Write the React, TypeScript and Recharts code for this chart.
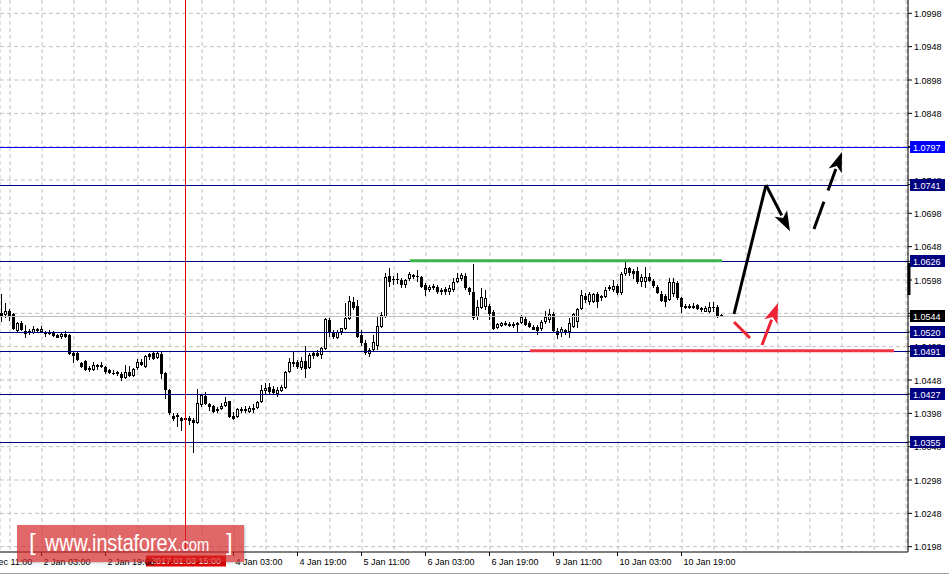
import React from 'react';
import { ComposedChart, Bar, XAxis, YAxis, CartesianGrid, ReferenceLine } from 'recharts';

// ---------------- data ----------------
const opens = [1.05485,1.05455,1.05515,1.05470,1.05215,1.05335,1.05215,1.05215,1.05185,1.05245,
1.05200,1.05200,1.05200,1.05200,1.05155,1.05125,1.05170,1.05155,1.04885,1.04885,
1.04735,1.04765,1.04660,1.04630,1.04705,1.04705,1.04675,1.04630,1.04585,1.04600,
1.04570,1.04510,1.04600,1.04540,1.04660,1.04750,1.04675,1.04870,1.04885,1.04810,
1.04870,1.04585,1.04330,1.03940,1.03955,1.03910,1.03910,1.03910,1.03880,1.03835,
1.04105,1.04240,1.04120,1.04090,1.04015,1.04045,1.04090,1.04165,1.03940,1.03925,
1.04045,1.04045,1.04000,1.04060,1.04060,1.04150,1.04315,1.04375,1.04345,1.04270,
1.04315,1.04360,1.04600,1.04750,1.04750,1.04660,1.04765,1.04660,1.04885,1.04885,
1.04855,1.04945,1.05380,1.05200,1.05110,1.05200,1.05245,1.05395,1.05650,1.05590,
1.05155,1.05035,1.04870,1.04930,1.04990,1.05275,1.05425,1.06040,1.05995,1.05995,
1.05980,1.05905,1.05995,1.06025,1.06040,1.06025,1.05905,1.05830,1.05860,1.05875,
1.05830,1.05845,1.05800,1.05830,1.05950,1.05995,1.06040,1.05860,1.05800,1.05425,
1.05560,1.05575,1.05590,1.05500,1.05260,1.05290,1.05335,1.05320,1.05320,1.05305,
1.05335,1.05395,1.05335,1.05275,1.05275,1.05245,1.05350,1.05380,1.05470,1.05215,
1.05185,1.05230,1.05200,1.05275,1.05350,1.05545,1.05740,1.05650,1.05650,1.05770,
1.05710,1.05725,1.05845,1.05830,1.05890,1.05785,1.06070,1.06160,1.06115,1.06115,
1.05950,1.05950,1.06025,1.05965,1.05875,1.05770,1.05740,1.05680,1.05770,1.05935,
1.05710,1.05590,1.05590,1.05590,1.05605,1.05560,1.05500,1.05500,1.05575,1.05575,
1.05455];

const highs = [1.05770,1.05635,1.05545,1.05485,1.05350,1.05365,1.05305,1.05245,1.05290,1.05260,
1.05290,1.05215,1.05230,1.05215,1.05170,1.05185,1.05215,1.05170,1.04915,1.04900,
1.04750,1.04780,1.04690,1.04750,1.04720,1.04750,1.04690,1.04645,1.04630,1.04615,
1.04600,1.04705,1.04690,1.04660,1.04795,1.04795,1.04855,1.04885,1.04900,1.04900,
1.04900,1.04600,1.04345,1.03985,1.03985,1.03925,1.03925,1.03940,1.03910,1.04345,
1.04270,1.04300,1.04135,1.04105,1.04075,1.04135,1.04225,1.04165,1.04000,1.04060,
1.04075,1.04090,1.04090,1.04120,1.04165,1.04405,1.04435,1.04435,1.04390,1.04375,
1.04405,1.04615,1.04810,1.04900,1.04780,1.04825,1.04990,1.04885,1.04915,1.04930,
1.04975,1.05410,1.05410,1.05230,1.05230,1.05260,1.05635,1.05740,1.05725,1.05680,
1.05230,1.05080,1.04960,1.05155,1.05425,1.05500,1.06085,1.06160,1.06040,1.06085,
1.06010,1.05995,1.06100,1.06070,1.06130,1.06040,1.05935,1.05905,1.05920,1.05905,
1.05860,1.05875,1.05905,1.06010,1.06085,1.06085,1.06085,1.05875,1.06220,1.05680,
1.05860,1.05830,1.05620,1.05530,1.05335,1.05350,1.05365,1.05350,1.05350,1.05350,
1.05455,1.05425,1.05365,1.05305,1.05305,1.05380,1.05515,1.05545,1.05500,1.05260,
1.05275,1.05245,1.05410,1.05485,1.05560,1.05830,1.05785,1.05800,1.05785,1.05800,
1.05755,1.05875,1.05905,1.05980,1.05920,1.06100,1.06250,1.06175,1.06145,1.06175,
1.06070,1.06175,1.06085,1.05995,1.05905,1.05815,1.05770,1.06010,1.06010,1.05965,
1.05725,1.05620,1.05620,1.05635,1.05620,1.05575,1.05590,1.05650,1.05650,1.05605,
1.05470];

const lows = [1.05350,1.05410,1.05365,1.05230,1.05200,1.05215,1.05110,1.05155,1.05170,1.05200,
1.05185,1.05125,1.05155,1.05125,1.05110,1.05095,1.05110,1.04855,1.04735,1.04765,
1.04660,1.04615,1.04600,1.04615,1.04630,1.04660,1.04570,1.04570,1.04555,1.04540,
1.04465,1.04495,1.04525,1.04525,1.04630,1.04690,1.04660,1.04780,1.04780,1.04795,
1.04495,1.04195,1.03955,1.03865,1.03775,1.03715,1.03835,1.03805,1.03385,1.03820,
1.04075,1.04105,1.04015,1.03985,1.03985,1.04030,1.04075,1.03910,1.03880,1.03910,
1.03985,1.03985,1.03985,1.03985,1.04045,1.04135,1.04270,1.04255,1.04255,1.04225,
1.04300,1.04345,1.04585,1.04675,1.04645,1.04630,1.04510,1.04645,1.04795,1.04825,
1.04795,1.04930,1.05125,1.05095,1.05095,1.05155,1.05230,1.05380,1.05530,1.05110,
1.04990,1.04855,1.04825,1.04900,1.04930,1.05260,1.05410,1.05875,1.05905,1.05920,
1.05860,1.05860,1.05965,1.05995,1.05950,1.05860,1.05740,1.05800,1.05830,1.05770,
1.05755,1.05755,1.05755,1.05800,1.05935,1.05965,1.05830,1.05755,1.05380,1.05380,
1.05545,1.05530,1.05380,1.05230,1.05245,1.05275,1.05290,1.05275,1.05260,1.05200,
1.05320,1.05290,1.05260,1.05230,1.05155,1.05215,1.05320,1.05335,1.05200,1.05095,
1.05125,1.05155,1.05110,1.05260,1.05260,1.05530,1.05635,1.05605,1.05635,1.05560,
1.05665,1.05710,1.05815,1.05800,1.05755,1.05755,1.06040,1.06040,1.05995,1.05920,
1.05875,1.05860,1.05950,1.05860,1.05770,1.05650,1.05575,1.05665,1.05725,1.05680,
1.05485,1.05545,1.05545,1.05545,1.05530,1.05500,1.05500,1.05485,1.05500,1.05410,
1.05425];

const closes = [1.05440,1.05515,1.05440,1.05245,1.05335,1.05230,1.05170,1.05185,1.05245,1.05215,
1.05245,1.05170,1.05170,1.05140,1.05110,1.05170,1.05125,1.04870,1.04840,1.04780,
1.04675,1.04630,1.04630,1.04705,1.04675,1.04675,1.04600,1.04585,1.04570,1.04570,
1.04510,1.04600,1.04540,1.04645,1.04750,1.04705,1.04840,1.04825,1.04795,1.04885,
1.04570,1.04330,1.03985,1.03895,1.03925,1.03865,1.03880,1.03865,1.03835,1.04135,
1.04255,1.04120,1.04075,1.04000,1.04045,1.04090,1.04150,1.03925,1.03895,1.04045,
1.04015,1.04015,1.04060,1.04030,1.04150,1.04330,1.04360,1.04300,1.04285,1.04330,
1.04375,1.04600,1.04750,1.04720,1.04675,1.04765,1.04645,1.04855,1.04840,1.04840,
1.04960,1.05395,1.05185,1.05125,1.05200,1.05260,1.05410,1.05665,1.05560,1.05125,
1.05035,1.04885,1.04930,1.05050,1.05290,1.05455,1.06025,1.05950,1.05980,1.05980,
1.05905,1.05980,1.06070,1.06055,1.06025,1.05875,1.05830,1.05875,1.05890,1.05800,
1.05800,1.05800,1.05860,1.05950,1.06010,1.06055,1.05860,1.05800,1.05410,1.05575,
1.05725,1.05710,1.05470,1.05245,1.05320,1.05335,1.05305,1.05290,1.05290,1.05335,
1.05425,1.05305,1.05275,1.05230,1.05215,1.05350,1.05425,1.05470,1.05215,1.05155,
1.05245,1.05200,1.05335,1.05470,1.05545,1.05755,1.05680,1.05770,1.05770,1.05650,
1.05740,1.05830,1.05875,1.05890,1.05785,1.06070,1.06160,1.06085,1.06070,1.05950,
1.06025,1.06025,1.05965,1.05890,1.05785,1.05665,1.05650,1.05950,1.05950,1.05710,
1.05575,1.05560,1.05560,1.05560,1.05545,1.05530,1.05560,1.05575,1.05560,1.05425,
1.05440];

// empty bar slots to the right of the last candle (chart shift area)
const FUTURE_SLOTS = 46;

// time axis labels (slot index -> text)
const timeTickIdx = [10, 26, 58, 74, 90, 106, 122, 138, 154, 170];
const timeTickText = ['2 Jan 03:00', '2 Jan 19:00', '4 Jan 03:00', '4 Jan 19:00', '5 Jan 11:00',
  '6 Jan 03:00', '6 Jan 19:00', '9 Jan 11:00', '10 Jan 03:00', '10 Jan 19:00'];
const leadTimeText = '30 Dec 11:00'; // label of the slot 8 bars left of the first grid line
const crosshairIdx = 46;
const crosshairText = '2017.01.03 15:00';

// price axis
const priceTicks = [1.0198, 1.0248, 1.0298, 1.0348, 1.0398, 1.0448, 1.0498, 1.0548, 1.0598,
  1.0648, 1.0698, 1.0748, 1.0798, 1.0848, 1.0898, 1.0948, 1.0998];
const levelPrices = [1.0797, 1.0741, 1.0626, 1.0520, 1.0491, 1.0427, 1.0355];
const levelColors = ['#0000ff', '#000080', '#000080', '#000080', '#000080', '#000080', '#000080'];
const bidPrice = 1.0544;
const scaleMarker = [{ x: 226, y: 1.06235 }, { x: 226, y: 1.05755 }];

// drawn objects (slot index, price)
const greenLine = [{ x: 102, y: 1.0627 }, { x: 180, y: 1.0627 }];
const redLine = [{ x: 132, y: 1.0492 }, { x: 223, y: 1.0492 }];
const blackUp = [{ x: 183, y: 1.0547 }, { x: 191, y: 1.07405 }];
const blackDown = [{ x: 191, y: 1.07405 }, { x: 197, y: 1.0671 }];
const blackDashed = [{ x: 203, y: 1.06745 }, { x: 210, y: 1.0790 }];
const redDash = [{ x: 183, y: 1.0535 }, { x: 187, y: 1.0511 }];
const redUp = [{ x: 190, y: 1.05005 }, { x: 194, y: 1.05635 }];

const rows = Array.from({ length: opens.length + FUTURE_SLOTS }, (_, i) =>
  i < opens.length
    ? { i, o: opens[i], h: highs[i], l: lows[i], c: closes[i] }
    : { i, o: null, h: null, l: null, c: null });

const gridTicks = Array.from({ length: 29 }, (_, k) => 2 + 8 * k);
// regular price labels first, then the boxed labels on top of them
const axisTicks = [...priceTicks, bidPrice, ...levelPrices];
const boxColor = (v: number) => {
  if (v === bidPrice) return '#000';
  const k = levelPrices.indexOf(v);
  return k >= 0 ? levelColors[k] : null;
};

const FONT = '"Liberation Sans", Arial, sans-serif';

const Candle = (props: any) => {
  const { x, y, width, height, payload } = props;
  if (!payload || payload.o == null) return null;
  const { o, h, l, c } = payload;
  const cx = x + width / 2 - 0.5;
  const span = h - l;
  const k = span > 0 ? height / span : 0;
  const py = (v: number) => y + (h - v) * k;
  const yo = py(o);
  const yc = py(c);
  const top = Math.min(yo, yc);
  const bh = Math.max(Math.abs(yo - yc), 1);
  const bull = c > o;
  return (
    <g>
      <line x1={cx} x2={cx} y1={y} y2={y + Math.max(height, 1)} stroke="#000" strokeWidth={1} />
      {bull ? (
        <rect x={cx - 1} y={top + 0.5} width={2} height={Math.max(bh - 1, 0.5)} fill="#fff" stroke="#000" strokeWidth={1} />
      ) : (
        <rect x={cx - 1.5} y={top} width={3} height={bh} fill="#000" />
      )}
    </g>
  );
};

const TimeTick = (props: any) => {
  const { x, y, payload } = props;
  const idx = timeTickIdx.indexOf(payload.value);
  const tx = x - 0.5;
  return (
    <g>
      {idx >= 0 && <line x1={tx} x2={tx} y1={y} y2={y + 4} stroke="#000" />}
      {idx >= 0 && (
        <text x={tx + 2} y={y + 13} fontSize={9} fontFamily={FONT} fill="#000">{timeTickText[idx]}</text>
      )}
      {payload.value === gridTicks[0] && (
        <text x={tx - 32 + 2} y={y + 13} fontSize={9} fontFamily={FONT} fill="#000">{leadTimeText}</text>
      )}
    </g>
  );
};

const PriceTick = (props: any) => {
  const { x, y, payload } = props;
  const v = payload.value as number;
  const bg = boxColor(v);
  const cy = Math.round(y);
  if (bg) {
    return (
      <g>
        <rect x={x - 4} y={cy - 6} width={35} height={12} fill={bg} />
        <text x={x - 1} y={cy + 3.5} fontSize={9} fontFamily={FONT} fill="#fff">{v.toFixed(4)}</text>
      </g>
    );
  }
  return (
    <text x={x} y={y + 3.5} fontSize={9} fontFamily={FONT} fill="#000">{v.toFixed(4)}</text>
  );
};

const crispH = (color: string) => (p: any) => {
  const yy = Math.round(p.y1) + 0.5;
  return <line x1={p.x1} x2={p.x2} y1={yy} y2={yy} style={{ stroke: color }} strokeWidth={1} />;
};

const crispV = (color: string) => (p: any) => {
  const xx = Math.floor(p.x1) - 0.5;
  return <line x1={xx} x2={xx} y1={p.y1} y2={p.y2} style={{ stroke: color }} strokeWidth={1} />;
};

const markerShape = (p: any) => (
  <rect x={p.x1 + 1.5} y={Math.min(p.y1, p.y2)} width={3} height={Math.abs(p.y2 - p.y1)} fill="#000" />
);

const crossLabel = (props: any) => {
  const vb = props.viewBox || {};
  const cx = vb.x;
  const by = vb.y + vb.height;
  return (
    <g>
      <rect x={cx - 40} y={by + 3.5} width={80} height={11} fill="#e00000" />
      <text x={cx} y={by + 12} textAnchor="middle" fontSize={9} fontFamily={FONT} fill="#fff">{crosshairText}</text>
    </g>
  );
};

const arrowShape = (color: string, width: number, head: boolean, dash?: string) => (p: any) => {
  const { x1, y1, x2, y2 } = p;
  const dx = x2 - x1;
  const dy = y2 - y1;
  const len = Math.sqrt(dx * dx + dy * dy) || 1;
  const ux = dx / len;
  const uy = dy / len;
  const hl = head ? 20 : 0;
  const hw = 7;
  const bx = x2 - ux * hl;
  const by = y2 - uy * hl;
  return (
    <g>
      <line x1={x1} y1={y1} x2={head ? bx + ux * 2 : x2} y2={head ? by + uy * 2 : y2} stroke={color}
        strokeWidth={width} strokeDasharray={dash} strokeLinecap="butt" />
      {head && (
        <polygon
          points={`${x2},${y2} ${bx - uy * hw},${by + ux * hw} ${bx + ux * 5},${by + uy * 5} ${bx + uy * hw},${by - ux * hw}`}
          fill={color}
        />
      )}
    </g>
  );
};

const WM_FONT = '"Liberation Sans", Arial, sans-serif';

export default function App() {
  return (
    <div style={{ position: 'absolute', left: 0, top: 0, width: 949, height: 576, background: '#fff', overflow: 'hidden' }}>
      <ComposedChart width={949} height={576} data={rows} margin={{ top: 0, right: 0, bottom: 0, left: 0 }} barCategoryGap={0}>
        <CartesianGrid stroke="#c0c0c0" strokeDasharray="4 3" horizontalValues={priceTicks} />
        <XAxis dataKey="i" type="category" ticks={gridTicks} interval={0} height={24}
          tick={<TimeTick />} tickLine={false} tickSize={0} tickMargin={0}
          axisLine={{ stroke: '#000' }} />
        <YAxis orientation="right" type="number" width={41} domain={[1.019, 1.1018]} allowDataOverflow
          ticks={axisTicks} interval={0} tick={<PriceTick />} tickSize={4} tickMargin={2}
          tickLine={{ stroke: '#000' }} axisLine={{ stroke: '#000' }} />
        <ReferenceLine x={crosshairIdx} shape={crispV('#e00000')} label={crossLabel} />
        <ReferenceLine y={bidPrice} shape={crispH('#c0c0c0')} />
        {levelPrices.map((p, k) => (
          <ReferenceLine key={p} y={p} shape={crispH(levelColors[k])} />
        ))}
        <Bar dataKey={(d: any) => (d.o == null ? null : [d.l, d.h])} shape={Candle} isAnimationActive={false} />
        <ReferenceLine segment={greenLine} stroke="#3cb44b" strokeWidth={3} />
        <ReferenceLine segment={redLine} stroke="#ee3344" strokeWidth={3} />
        <ReferenceLine segment={blackUp} shape={arrowShape('#000', 3, false)} />
        <ReferenceLine segment={blackDown} shape={arrowShape('#000', 3, true)} />
        <ReferenceLine segment={blackDashed} shape={arrowShape('#000', 3, true, '29 12')} />
        <ReferenceLine segment={redDash} shape={arrowShape('#ee2233', 3, false)} />
        <ReferenceLine segment={redUp} shape={arrowShape('#ee2233', 3, true)} />
        <ReferenceLine segment={scaleMarker} shape={markerShape} ifOverflow="visible" />
      </ComposedChart>
      <div style={{
        position: 'absolute', left: 17, top: 525, width: 227, height: 37,
        background: 'rgba(212,40,40,0.7)', boxShadow: '1px 1px 2px rgba(0,0,0,0.25)',
        color: '#fff', whiteSpace: 'nowrap', fontFamily: WM_FONT,
      }}>
        <span style={{ position: 'absolute', left: 12, top: 3, fontSize: 24 }}>[</span>
        <span style={{
          position: 'absolute', left: 28, top: 4, fontSize: 24, display: 'inline-block',
          transform: 'scaleX(0.82)', transformOrigin: '0 50%',
        }}>www.instaforex<span style={{ fontSize: 18 }}>.com</span></span>
        <span style={{ position: 'absolute', left: 209, top: 3, fontSize: 24 }}>]</span>
      </div>
      <div style={{ position: 'absolute', left: 0, top: 573, width: 949, height: 1, background: '#a0a0a0' }} />
    </div>
  );
}
